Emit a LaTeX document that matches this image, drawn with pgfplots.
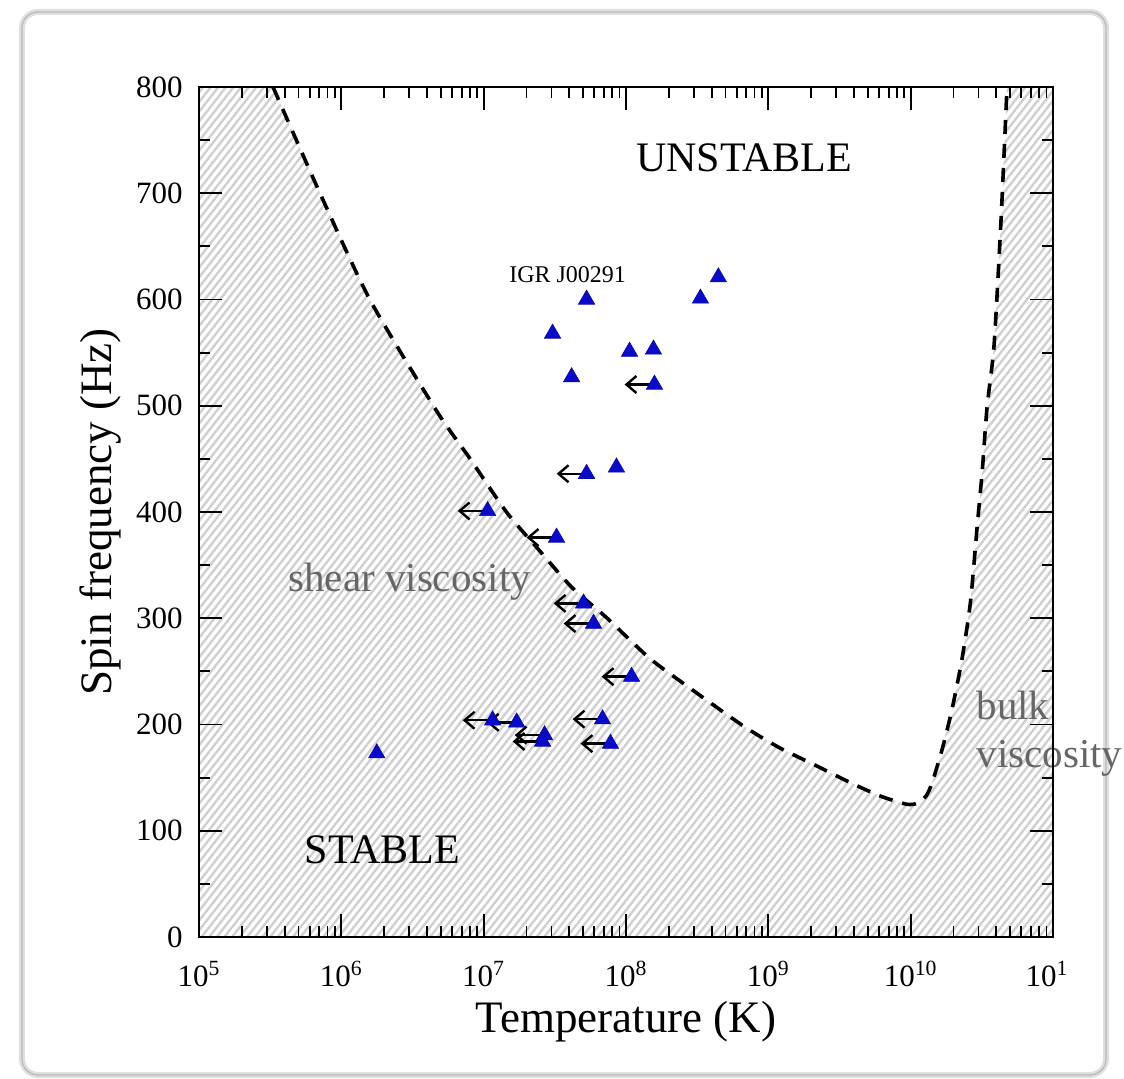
\documentclass[border=0pt]{standalone}
\usepackage{pgfplots}
\pgfplotsset{compat=1.18}
\usepackage{pgfplotstable}
\usepackage{fontspec}
\setmainfont{Liberation Serif}
\usetikzlibrary{patterns.meta,arrows.meta}

\definecolor{tri}{RGB}{10,10,205}
\definecolor{visc}{RGB}{102,102,102}

% instability curve: log10(T/K), spin frequency (Hz)
\pgfplotstableread{
logT f
5.52 800
5.85 700
6.20 600
6.67 495
6.90 451
7.16 400
7.39 364
7.62 329
7.86 301
8.16 263
8.40 239
8.82 199
9.08 178
9.31 163
9.55 147
9.78 133
9.97 125
10.05 126
10.11 133
10.15 145
10.22 176
10.29 214
10.36 261
10.42 315
10.467 386
10.502 437
10.537 499
10.586 557
10.635 675
10.677 800
}\tabcurve

% all sources
\pgfplotstableread{
logT f
7.723 600
7.484 568
7.618 527
8.025 551
8.193 553
8.200 520
8.523 601
8.649 621
7.723 436
7.933 442
7.028 401
7.512 376
7.702 314
7.772 295
8.039 245
7.835 205
7.891 182
7.063 204
7.232 202
7.428 190
7.414 184
6.249 173
}\tabstars

% sources with temperature upper limits
\pgfplotstableread{
logT f
8.200 520
7.723 436
7.028 401
7.512 376
7.702 314
7.772 295
8.039 245
7.835 205
7.891 182
7.063 204
7.232 202
7.428 190
7.414 184
}\tabarrows

\begin{document}
\begin{tikzpicture}
\path[use as bounding box] (-99.5pt,-70.5pt) rectangle (462.5pt,468.5pt);
\draw[gray!25, line width=3pt, rounded corners=8pt, fill=white] (-88.5pt,-69pt) rectangle (453.5pt,462.5pt);
\draw[gray!55, line width=0.6pt, rounded corners=8pt] (-88.5pt,-69pt) rectangle (453.5pt,462.5pt);
\begin{axis}[
    scale only axis,
    width=427pt, height=425pt,
    xmin=5, xmax=11, ymin=0, ymax=800,
    xtick={5,...,11},
    xticklabels={10\textsuperscript{5},10\textsuperscript{6},10\textsuperscript{7},10\textsuperscript{8},10\textsuperscript{9},10\textsuperscript{10},10\textsuperscript{1}\phantom{\textsuperscript{1}}},
    minor xtick={5.301,5.477,5.602,5.699,5.778,5.845,5.903,5.954,
                 6.301,6.477,6.602,6.699,6.778,6.845,6.903,6.954,
                 7.301,7.477,7.602,7.699,7.778,7.845,7.903,7.954,
                 8.301,8.477,8.602,8.699,8.778,8.845,8.903,8.954,
                 9.301,9.477,9.602,9.699,9.778,9.845,9.903,9.954,
                 10.301,10.477,10.602,10.699,10.778,10.845,10.903,10.954},
    ytick={0,100,...,800},
    minor y tick num=1,
    xtick pos=both, ytick pos=both,
    tick align=inside,
    major tick length=11.5pt, minor tick length=5.5pt,
    tick style={black, line width=0.9pt},
    axis line style={line width=1.1pt},
    axis on top,
    clip mode=individual,
    /pgf/number format/assume math mode=true,
    tick label style={font=\fontsize{15.5}{18}\selectfont},
    yticklabel style={inner sep=0pt, xshift=-8pt},
    xticklabel style={anchor=base, inner sep=0pt, yshift=-24.5pt},
    xlabel={Temperature (K)},
    ylabel={Spin frequency (Hz)},
    label style={font=\fontsize{22.5}{26}\selectfont},
    xlabel style={at={(axis description cs:0.5,-0.1118)}, anchor=base},
    ylabel style={at={(axis description cs:-0.103,0.5)}, anchor=base},
]
% stable (hatched) region
\addplot[draw=none, pattern={Lines[angle=52,distance=3pt,line width=1.2pt]}, pattern color=gray!38]
  coordinates {(5,0) (5,800) (5.52,800) (5.85,700) (6.20,600) (6.67,495) (6.90,451)
    (7.16,400) (7.39,364) (7.62,329) (7.86,301) (8.16,263) (8.40,239)
    (8.82,199) (9.08,178) (9.31,163) (9.55,147) (9.78,133) (9.97,125) (10.05,126)
    (10.11,133) (10.15,145) (10.22,176) (10.29,214) (10.36,261) (10.42,315)
    (10.467,386) (10.502,437) (10.537,499) (10.586,557) (10.635,675) (10.677,800)
    (11,800) (11,0)};
% instability window boundary
\addplot[black, line width=1.8pt, dash pattern=on 7pt off 5pt, smooth, tension=0.4, mark=none]
  table[x=logT, y=f] {\tabcurve};
% upper limits on temperature
\addplot[black, line width=1.2pt, mark=none, -{Straight Barb[length=5pt,width=8.5pt,line width=1.2pt]},
  quiver={u=-0.21, v=0}] table[x=logT, y=f] {\tabarrows};
% sources
\addplot[only marks, mark=triangle*, mark size=4.7pt,
  mark options={fill=tri, draw=tri!80!black, line width=0.3pt}]
  table[x=logT, y=f] {\tabstars};

\node[font=\fontsize{21}{24}\selectfont] at (axis cs:8.83,733) {UNSTABLE};
\node[font=\fontsize{21}{24}\selectfont] at (axis cs:6.29,82) {STABLE};
\node[font=\fontsize{12}{14}\selectfont] at (axis cs:7.59,623) {IGR J00291};
\node[font=\fontsize{20.5}{24}\selectfont, text=visc, anchor=base] at (axis cs:6.48,325) {shear viscosity};
\node[font=\fontsize{20.5}{24}\selectfont, text=visc, anchor=base west, inner sep=0pt] at (axis cs:10.46,205) {bulk};
\node[font=\fontsize{20.5}{24}\selectfont, text=visc, anchor=base west, inner sep=0pt] at (axis cs:10.46,160) {viscosity};
\end{axis}
\end{tikzpicture}
\end{document}
